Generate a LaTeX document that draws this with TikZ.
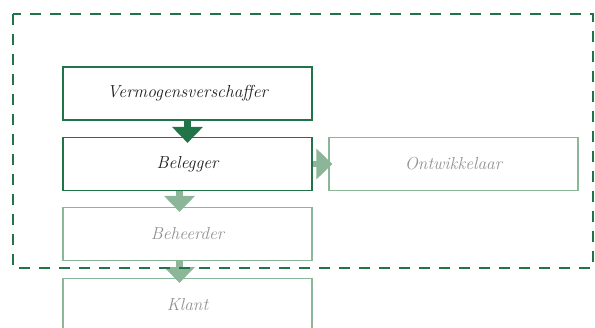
\documentclass[tikz,border=0pt]{standalone}
\usepackage{fontspec}
\usetikzlibrary{arrows.meta}
\definecolor{dgreen}{RGB}{32,116,72}
\definecolor{lgreen}{RGB}{140,182,152}
\definecolor{dtext}{RGB}{30,30,30}
\definecolor{gtext}{RGB}{145,145,145}
\tikzset{
  lbl/.style={font=\fontsize{17.4}{19}\selectfont\itshape},
  box/.style={draw=dgreen, line width=1.2pt, minimum width=249pt, minimum height=53pt, inner sep=0pt, lbl, text=dtext},
  lbox/.style={box, draw=lgreen, text=gtext},
  darrow/.style={draw=dgreen, line width=6.5pt, -{Triangle[width=30pt,length=16pt]}},
  larrow/.style={darrow, draw=lgreen},
  frame/.style={draw=dgreen, line width=2.5pt, dash pattern=on 11pt off 9pt}
}
\begin{document}
\begin{tikzpicture}[x=1pt,y=-1pt]
\useasboundingbox (0,0) rectangle (595,327);
\clip (0,0) rectangle (595,327);
\node[box] (verm) at (187.5,93.5) {Vermogensverschaffer};
\node[box] (bel) at (187.5,164) {Belegger};
\node[lbox] (ont) at (453.5,164) {Ontwikkelaar};
\node[lbox] (beh) at (187.5,234) {Beheerder};
\node[lbox, minimum height=60pt, anchor=north] (kl) at (187.5,278) {};
\node[lbl, text=gtext] (kltext) at (187.5,304.5) {Klant};
\draw[darrow, shorten >=-6pt] (verm.south) -- (bel.north);
\draw[larrow, shorten >=-5pt] ([xshift=-8pt]bel.south) -- ([xshift=-8pt]beh.north);
\draw[larrow, shorten >=-5pt] ([xshift=-8pt]beh.south) -- ([xshift=-8pt]kl.north);
\draw[larrow, shorten >=-4pt] (bel.east) -- (ont.west);
\coordinate (f1) at (13,14);
\coordinate (f2) at (593,268);
\draw[frame] (f1) rectangle (f2);
\end{tikzpicture}
\end{document}
